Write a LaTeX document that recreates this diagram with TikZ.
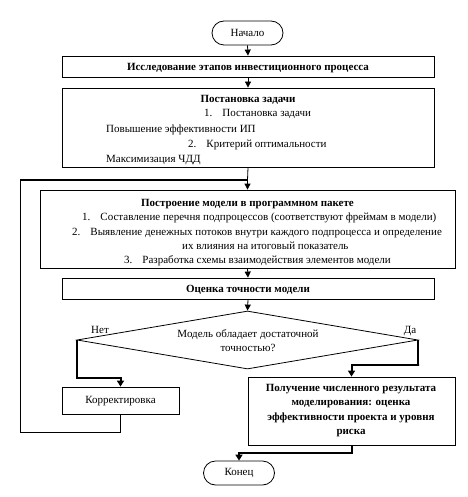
\documentclass[tikz,border=0pt]{standalone}
\usepackage{fontspec}
\setmainfont{Liberation Serif}
\usetikzlibrary{shapes.geometric,arrows.meta}
\begin{document}
\begin{tikzpicture}[x=1pt,y=-1pt,
  every node/.style={font=\fontsize{11}{13}\selectfont},
  box/.style={draw, line width=0.8pt, inner sep=0pt},
  term/.style={draw, line width=0.8pt, rounded corners=12pt, inner sep=0pt, minimum width=71pt, minimum height=24pt},
  txt/.style={inner sep=0pt, anchor=base west},
  ctxt/.style={inner sep=0pt, anchor=base},
  bt/.style={inner sep=0pt, anchor=base, font=\fontsize{11}{13}\selectfont\bfseries},
  arr/.style={line width=0.8pt, -{Triangle[length=6pt,width=6pt]}},
  thk/.style={line width=2pt},
  thkarr/.style={line width=2pt, -{Triangle[length=6pt,width=7pt]}}
]
\useasboundingbox (0,0) rectangle (467,497);
% start
\node[term] (start) at (247.5,33) {Начало};
% box 1
\node[box, minimum width=372pt, minimum height=21pt] (b1) at (248,66.5) {};
\node[bt] (t1) at (248,70.5) {Исследование этапов инвестиционного процесса};
% box 2
\node[box, minimum width=372pt, minimum height=79pt] (b2) at (248,127.5) {};
\node[bt] (t2a) at (248,103) {Постановка задачи};
\node[txt] (t2b) at (204,117) {1.\hspace{10pt}Постановка задачи};
\node[txt] (t2c) at (106,132) {Повышение эффективности ИП};
\node[txt] (t2d) at (188,147) {2.\hspace{10pt}Критерий оптимальности};
\node[txt] (t2e) at (106,162) {Максимизация ЧДД};
% box 3
\node[box, minimum width=415pt, minimum height=78pt] (b3) at (247.5,229) {};
\node[bt] (t3a) at (247.5,206) {Построение модели в программном пакете};
\node[txt] (t3b) at (82,220) {1.\hspace{10pt}Составление перечня подпроцессов (соответствуют фреймам в модели)};
\node[txt] (t3c) at (72,235) {2.\hspace{10pt}Выявление денежных потоков внутри каждого подпроцесса и определение};
\node[txt] (t3d) at (182,249) {их влияния на итоговый показатель};
\node[txt] (t3e) at (124,263) {3.\hspace{10pt}Разработка схемы взаимодействия элементов модели};
% box 4
\node[box, minimum width=372pt, minimum height=21pt] (b4) at (248,288.5) {};
\node[bt] (t4) at (248,292.5) {Оценка точности модели};
% diamond
\node[draw, line width=0.8pt, diamond, inner sep=0pt, minimum width=341pt, minimum height=58pt] (dec) at (247.5,340) {};
\node[ctxt] (td1) at (248,337) {Модель обладает достаточной};
\node[ctxt] (td2) at (248,351) {точностью?};
\node[ctxt] (no) at (100,333) {Нет};
\node[ctxt] (yes) at (410,333) {Да};
% correction
\node[box, minimum width=117pt, minimum height=27pt] (korr) at (120.5,400.5) {};
\node[ctxt] (tk) at (120.5,403) {Корректировка};
% result
\node[box, minimum width=207pt, minimum height=68pt] (res) at (351.5,411) {};
\node[bt] (tr1) at (351,391) {Получение численного результата};
\node[bt] (tr2) at (351,405.5) {моделирования: оценка};
\node[bt] (tr3) at (351,420) {эффективности проекта и уровня};
\node[bt] (tr4) at (351,434.5) {риска};
% end
\node[term] (end) at (239,473) {Конец};
% coordinates
\coordinate (nL) at (77,378);
\coordinate (yR) at (419,365);
\coordinate (rB) at (351,453);
\coordinate (lB) at (120.5,432);
\coordinate (lL) at (20,432);
\coordinate (lT) at (20,180);
\coordinate (jT) at (247.5,180);
% connectors
\draw[arr] (start.south) -- (b1.north);
\draw[arr] (b1.south) -- (b2.north);
\draw[line width=0.8pt] (b2.south) -- (jT);
\draw[arr] (jT) -- (b3.north);
\draw[arr] (b3.south) -- (b4.north);
\draw[arr] (b4.south) -- (dec.north);
\draw[thkarr] (dec.west) |- (nL) -| (korr.north);
\draw[thkarr] (dec.east) |- (yR) -| (res.north);
\draw[thkarr] (res.south) |- (rB) -| (end.north);
\draw[line width=0.8pt] (korr.south) -- (lB) -- (lL) -- (lT);
\draw[thk] (lT) -- (jT);
\end{tikzpicture}
\end{document}
